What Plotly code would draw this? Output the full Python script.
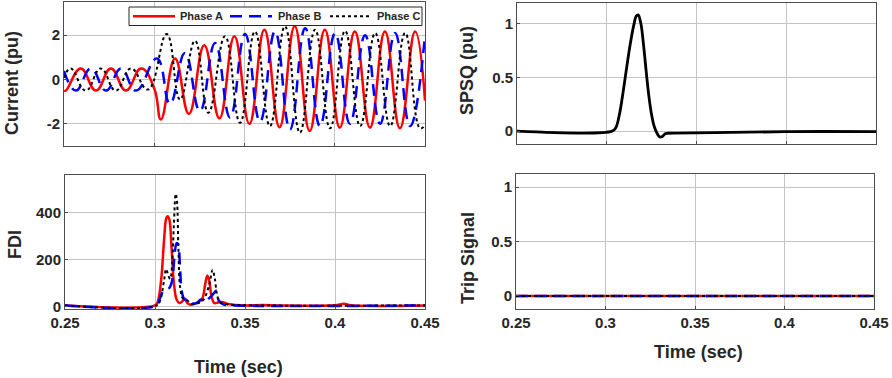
import plotly.graph_objects as go

# ---------------- data ----------------
# Phase currents: extrema (peak / trough) times and values, in pu
IA_T = [0.2500, 0.2510, 0.2593, 0.2677, 0.2760, 0.2843, 0.2927, 0.3000, 0.3037, 0.3115,
        0.3192, 0.3277, 0.3361, 0.3444, 0.3527, 0.3610, 0.3694, 0.3778, 0.3861, 0.3945,
        0.4028, 0.4111, 0.4195, 0.4278, 0.4361, 0.4445, 0.4500]
IA_V = [-0.49, -0.50, 0.50, -0.50, 0.50, -0.50, 0.50, -0.40, -1.80, 0.95,
        -1.55, 1.55, -1.75, 1.95, -2.00, 2.25, -2.15, 2.40, -2.32, 2.25,
        -2.17, 2.17, -2.17, 2.17, -2.20, 2.17, -0.95]

IB_T = [0.2500, 0.2566, 0.2649, 0.2733, 0.2816, 0.2899, 0.3015, 0.3087, 0.3170, 0.3253,
        0.3337, 0.3420, 0.3503, 0.3586, 0.3669, 0.3752, 0.3836, 0.3918, 0.4002, 0.4084,
        0.4168, 0.4251, 0.4334, 0.4417, 0.4500]
IB_V = [0.39, -0.50, 0.50, -0.50, 0.50, -0.50, 0.95, -1.10, 1.20, -1.42,
        1.65, -1.72, 2.05, -1.90, 2.17, -2.25, 2.32, -2.10, 2.10, -2.00,
        2.00, -2.00, 2.10, -2.10, 2.00]

IC_T = [0.2500, 0.2537, 0.2621, 0.2704, 0.2787, 0.2871, 0.2965, 0.3069, 0.3143, 0.3226,
        0.3300, 0.3392, 0.3475, 0.3558, 0.3641, 0.3724, 0.3807, 0.3891, 0.3974, 0.4057,
        0.4141, 0.4224, 0.4307, 0.4390, 0.4473, 0.4500]
IC_V = [0.08, 0.50, -0.50, 0.50, -0.50, 0.50, -0.45, 2.05, -0.90, 1.75,
        -1.50, 1.95, -1.95, 2.17, -2.10, 2.40, -2.40, 2.25, -2.20, 2.20,
        -2.10, 2.10, -2.10, 2.10, -2.20, -2.05]

# FDI per phase
FA_T = [0.2500, 0.3000, 0.3015, 0.3035, 0.3050, 0.3062, 0.3070, 0.3080, 0.3092, 0.3105,
        0.3120, 0.3135, 0.3155, 0.3165, 0.3180, 0.3200, 0.3230, 0.3260, 0.3280, 0.3290,
        0.3300, 0.3315, 0.3330, 0.3350, 0.3375, 0.3400, 0.3450, 0.3500, 0.3600, 0.3700,
        0.4000, 0.4050, 0.4090, 0.4500]
FA_V = [5, 5, 20, 120, 280, 375, 385, 370, 250, 100,
        30, 15, 25, 35, 15, 8, 15, 30, 100, 132,
        115, 40, 15, 18, 20, 12, 7, 5, 7, 5,
        6, 12, 6, 5]

FB_T = [0.2500, 0.3010, 0.3025, 0.3040, 0.3060, 0.3080, 0.3095, 0.3110, 0.3120, 0.3128,
        0.3140, 0.3150, 0.3165, 0.3185, 0.3200, 0.3230, 0.3255, 0.3275, 0.3300, 0.3330,
        0.3340, 0.3355, 0.3380, 0.3450, 0.4500]
FB_V = [5, 5, 30, 60, 75, 80, 110, 230, 270, 265,
        150, 60, 30, 30, 15, 15, 30, 20, 35, 60,
        68, 25, 10, 5, 5]

FC_T = [0.2500, 0.3010, 0.3030, 0.3050, 0.3062, 0.3075, 0.3085, 0.3095, 0.3105, 0.3115,
        0.3122, 0.3130, 0.3140, 0.3155, 0.3175, 0.3200, 0.3240, 0.3270, 0.3300, 0.3320,
        0.3332, 0.3345, 0.3360, 0.3400, 0.3500, 0.4500]
FC_V = [5, 5, 30, 110, 160, 130, 118, 180, 350, 480,
        450, 250, 80, 35, 30, 12, 15, 30, 90, 156,
        120, 50, 20, 10, 6, 5]

# SPSQ
SP_T = [0.2500, 0.3030, 0.3050, 0.3070, 0.3090, 0.3110, 0.3130, 0.3150, 0.3165, 0.3175,
        0.3190, 0.3205, 0.3220, 0.3235, 0.3250, 0.3265, 0.3280, 0.3295, 0.3310, 0.3325,
        0.3340, 0.3600, 0.4000, 0.4500]
SP_V = [0.0, 0.0, 0.03, 0.15, 0.35, 0.58, 0.80, 0.98, 1.07, 1.08,
        1.00, 0.80, 0.55, 0.32, 0.15, 0.04, -0.02, -0.055, -0.05, -0.025,
        -0.02, -0.015, -0.005, -0.005]

# Trip signal
TR_T = [0.25, 0.45]
TR_A = [0, 0]
TR_B = [0, 0]
TR_C = [0, 0]

PHASES = ["Phase A", "Phase B", "Phase C"]
X_TICKS = [0.25, 0.3, 0.35, 0.4, 0.45]
X_TICKTEXT = ["0.25", "0.3", "0.35", "0.4", "0.45"]
I_TICKS = [-2, 0, 2]
I_TICKTEXT = ["-2", "0", "2"]
F_TICKS = [0, 200, 400]
S_TICKS = [0, 0.5, 1]
S_TICKTEXT = ["0", "0.5", "1"]

# ---------------- styling ----------------
FONT = "Liberation Sans, Arial, Helvetica, sans-serif"
TXT = "#262626"
RED = "#ff0000"
BLUE = "#0000ff"
BLACK = "#000000"
STY = [dict(color=RED, width=2.5, dash="solid"),
       dict(color=BLUE, width=2.5, dash="12px,7px"),
       dict(color=BLACK, width=2.0, dash="dot")]

W, H = 892, 378

fig = go.Figure()

def add(x, y, xa, ya, line, name=None, shape="spline", smooth=1.3):
    ln = dict(**line, shape=shape)
    if shape == "spline":
        ln["smoothing"] = smooth
    fig.add_trace(go.Scatter(x=x, y=y, mode="lines", line=ln,
                             xaxis=xa, yaxis=ya, name=name, showlegend=False,
                             hoverinfo="skip"))

for T, V, st, nm in zip([IA_T, IB_T, IC_T], [IA_V, IB_V, IC_V], STY, PHASES):
    add(T, V, "x", "y", st, nm)
for T, V, st in zip([FA_T, FB_T, FC_T], [FA_V, FB_V, FC_V], STY):
    add(T, V, "x2", "y2", st, smooth=1.0)
add(SP_T, SP_V, "x3", "y3", dict(color=BLACK, width=2.8, dash="solid"), smooth=1.0)
for V, st in zip([TR_A, TR_B, TR_C], STY):
    add(TR_T, V, "x4", "y4", st, shape="linear")

def dx(a, b):
    return [a / W, b / W]
def dy(top, bot):
    return [1 - bot / H, 1 - top / H]

common = dict(showgrid=True, gridcolor="#c4c4c4", gridwidth=1, zeroline=False,
              showline=True, linecolor="#4d4d4d", linewidth=1, mirror=True,
              ticks="inside", ticklen=3, tickcolor="#4d4d4d", automargin=False,
              tickfont=dict(family=FONT, size=15, color=TXT, weight="bold"))
common_x = dict(common, range=[0.25, 0.45], tickvals=X_TICKS, ticktext=X_TICKTEXT)

fig.update_layout(
    template="none",
    width=W, height=H, margin=dict(l=0, r=0, t=0, b=0, autoexpand=False),
    paper_bgcolor="white", plot_bgcolor="white",
    font=dict(family=FONT, color=TXT),
    showlegend=False,
    xaxis=dict(common_x, domain=dx(64, 425), anchor="y", showticklabels=False),
    yaxis=dict(common, domain=dy(2, 146), anchor="x", range=[-3, 3.5],
               tickvals=I_TICKS, ticktext=I_TICKTEXT),
    xaxis2=dict(common_x, domain=dx(65, 425), anchor="y2"),
    yaxis2=dict(common, domain=dy(175, 309), anchor="x2", range=[-10, 560],
                tickvals=F_TICKS),
    xaxis3=dict(common_x, domain=dx(517, 876), anchor="y3", showticklabels=False),
    yaxis3=dict(common, domain=dy(3, 144), anchor="x3", range=[-0.12, 1.19],
                tickvals=S_TICKS, ticktext=S_TICKTEXT),
    xaxis4=dict(common_x, domain=dx(516, 874), anchor="y4"),
    yaxis4=dict(common, domain=dy(174, 309), anchor="x4", range=[-0.12, 1.12],
                tickvals=S_TICKS, ticktext=S_TICKTEXT),
)

# ---- legend box (drawn inside the current panel, as in the reference) ----
def px_x(v):
    return v / W
def px_y(v):
    return 1 - v / H

fig.add_shape(type="rect", xref="paper", yref="paper",
              x0=px_x(129), x1=px_x(422), y0=px_y(25.5), y1=px_y(7),
              line=dict(color="#262626", width=1), fillcolor="white", layer="above")
LEG_LINE_X = [133, 230, 330]
LEG_TEXT_X = [178, 276, 375]
for st, lx, tx, nm in zip(STY, LEG_LINE_X, LEG_TEXT_X, PHASES):
    fig.add_shape(type="line", xref="paper", yref="paper",
                  x0=px_x(lx), x1=px_x(lx + 42), y0=px_y(16.2), y1=px_y(16.2),
                  line=dict(color=st["color"], width=st["width"], dash=st["dash"]),
                  layer="above")
    fig.add_annotation(text=nm, x=px_x(tx), y=px_y(16.5), xref="paper", yref="paper",
                       showarrow=False, xanchor="left", yanchor="middle",
                       font=dict(family=FONT, size=11, color=TXT, weight="bold"))

ttl = dict(family=FONT, size=18, color=TXT, weight="bold")
def annot(text, x, y, angle=0):
    fig.add_annotation(text=text, x=px_x(x), y=px_y(y), xref="paper", yref="paper",
                       showarrow=False, textangle=angle, font=ttl,
                       xanchor="center", yanchor="middle")

annot("Current (pu)", 12, 83, -90)
annot("FDI", 15, 245, -90)
annot("SPSQ (pu)", 467, 71, -90)
annot("Trip Signal", 468, 258, -90)
annot("Time (sec)", 238, 367)
annot("Time (sec)", 698, 352)

fig.write_html("out.html",
               config={"displayModeBar": False},
               post_script="document.body.style.margin='0px';"
                           "document.body.style.overflow='hidden';")
